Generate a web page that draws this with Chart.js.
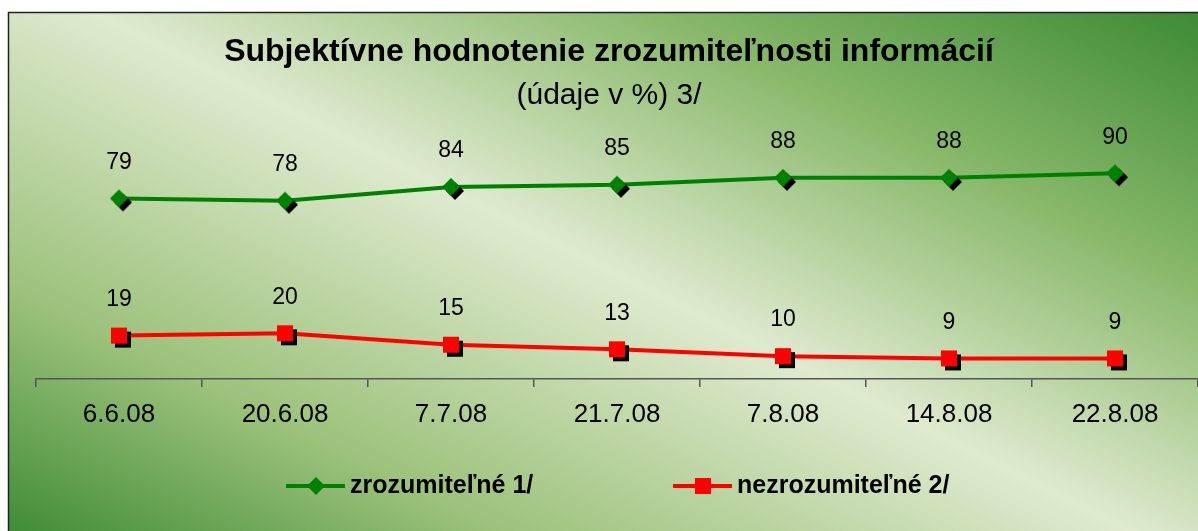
<!DOCTYPE html>
<html lang="sk">
<head>
<meta charset="utf-8">
<title>Subjektívne hodnotenie zrozumiteľnosti informácií</title>
<script src="https://cdn.jsdelivr.net/npm/chart.js@4/dist/chart.umd.min.js"></script>
<style>
  html, body { margin: 0; padding: 0; background: #fff; }
  #obal { width: 1198px; height: 531px; position: relative; }
</style>
</head>
<body>
<div id="obal"><canvas id="graf"></canvas></div>
<script>
const datumy = ['6.6.08', '20.6.08', '7.7.08', '21.7.08', '7.8.08', '14.8.08', '22.8.08'];
const zrozumitelne = [79, 78, 84, 85, 88, 88, 90];
const nezrozumitelne = [19, 20, 15, 13, 10, 9, 9];
const nazvySerii = ['zrozumiteľné 1/', 'nezrozumiteľné 2/'];

const PISMO = "'Liberation Sans', Arial, sans-serif";

function kresliTvar(ctx, tvar, x, y, polomer) {
  ctx.beginPath();
  if (tvar === 'diamant') {
    ctx.moveTo(x, y - polomer);
    ctx.lineTo(x + polomer, y);
    ctx.lineTo(x, y + polomer);
    ctx.lineTo(x - polomer, y);
    ctx.closePath();
  } else {
    ctx.rect(x - polomer, y - polomer, polomer * 2, polomer * 2);
  }
  ctx.fill();
}

// znacka s tienom, vykreslena do malého canvasu (pouzije sa ako pointStyle)
function vytvorZnacku(tvar, farba, polomer, posun) {
  const c = document.createElement('canvas');
  const s = 2 * (polomer + posun) + 2;
  c.width = s;
  c.height = s;
  const ctx = c.getContext('2d');
  const stred = s / 2;
  ctx.fillStyle = '#000';
  kresliTvar(ctx, tvar, stred + posun, stred + posun, polomer);
  ctx.fillStyle = farba;
  kresliTvar(ctx, tvar, stred, stred, polomer);
  return c;
}

const pozadie = {
  id: 'pozadie',
  beforeDraw(chart) {
    const ctx = chart.ctx;
    const w = chart.width, h = chart.height;
    ctx.save();
    ctx.fillStyle = '#fff';
    ctx.fillRect(0, 0, w, h);
    const g = ctx.createLinearGradient(374, 717, 825, -186);
    g.addColorStop(0, '#3f8c36');
    g.addColorStop(0.22, '#9cc27b');
    g.addColorStop(0.5, '#dfeacf');
    g.addColorStop(0.75, '#88b86a');
    g.addColorStop(1, '#3a8934');
    ctx.fillStyle = g;
    ctx.fillRect(8, 12, w - 8, h - 12);
    ctx.strokeStyle = '#222';
    ctx.lineWidth = 1.5;
    ctx.beginPath();
    ctx.moveTo(8.5, h);
    ctx.lineTo(8.5, 12.5);
    ctx.lineTo(w, 12.5);
    ctx.stroke();
    ctx.restore();
  }
};

const hodnoty = {
  id: 'hodnoty',
  afterDatasetsDraw(chart) {
    const ctx = chart.ctx;
    ctx.save();
    ctx.font = '23px ' + PISMO;
    ctx.fillStyle = '#000';
    ctx.textAlign = 'center';
    ctx.textBaseline = 'middle';
    chart.data.datasets.forEach((ds, i) => {
      chart.getDatasetMeta(i).data.forEach((bod, j) => {
        ctx.fillText(String(ds.data[j]), bod.x, bod.y - 36);
      });
    });
    ctx.restore();
  }
};

const legenda = {
  id: 'legenda',
  afterDraw(chart) {
    const ctx = chart.ctx;
    const y = 486;
    const polohy = [286, 673];
    ctx.save();
    ctx.font = 'bold 25px ' + PISMO;
    ctx.textBaseline = 'middle';
    chart.data.datasets.forEach((ds, i) => {
      const x = polohy[i];
      ctx.strokeStyle = ds.borderColor;
      ctx.lineWidth = 4;
      ctx.beginPath();
      ctx.moveTo(x, y);
      ctx.lineTo(x + 59, y);
      ctx.stroke();
      ctx.fillStyle = ds.borderColor;
      kresliTvar(ctx, ds.tvar, x + 30, y, ds.tvar === 'diamant' ? 9 : 8);
      ctx.fillStyle = '#000';
      ctx.fillText(ds.label, x + 64, y);
    });
    ctx.restore();
  }
};

new Chart(document.getElementById('graf'), {
  type: 'line',
  data: {
    labels: datumy,
    datasets: [{
      label: nazvySerii[0],
      data: zrozumitelne,
      tvar: 'diamant',
      borderColor: '#008000',
      backgroundColor: '#008000',
      borderWidth: 4,
      pointStyle: vytvorZnacku('diamant', '#008000', 9, 4),
      pointRadius: 9,
      tension: 0
    }, {
      label: nazvySerii[1],
      data: nezrozumitelne,
      tvar: 'stvorec',
      borderColor: '#ff0000',
      backgroundColor: '#ff0000',
      borderWidth: 4,
      pointStyle: vytvorZnacku('stvorec', '#ff0000', 8, 4),
      pointRadius: 8,
      tension: 0
    }]
  },
  options: {
    responsive: true,
    maintainAspectRatio: false,
    animation: false,
    layout: { autoPadding: false, padding: { left: 20, right: 0, top: 0, bottom: 100 } },
    scales: {
      x: {
        offset: true,
        grid: { offset: true, drawOnChartArea: false, drawTicks: true, tickLength: 8, color: '#555', lineWidth: 1.5 },
        border: { display: true, color: '#555', width: 1.5 },
        ticks: { color: '#000', font: { family: PISMO, size: 26 }, padding: 12, maxRotation: 0, autoSkip: false },
        afterFit(s) {
          s.height = 52;
          s.paddingLeft = 0;
          s.paddingRight = 0;
        }
      },
      y: {
        min: 0,
        max: 100,
        grid: { display: false },
        border: { display: false },
        ticks: { display: false },
        afterFit(s) { s.width = 16; }
      }
    },
    plugins: {
      legend: { display: false },
      tooltip: { enabled: false },
      title: {
        display: true,
        text: 'Subjektívne hodnotenie zrozumiteľnosti informácií',
        color: '#000',
        font: { family: PISMO, size: 32, weight: 'bold' },
        padding: { top: 33, bottom: 4 }
      },
      subtitle: {
        display: true,
        text: '(údaje v %) 3/',
        color: '#000',
        font: { family: PISMO, size: 30 },
        padding: { top: 2, bottom: 37 }
      }
    }
  },
  plugins: [pozadie, hodnoty, legenda]
});
</script>
</body>
</html>
